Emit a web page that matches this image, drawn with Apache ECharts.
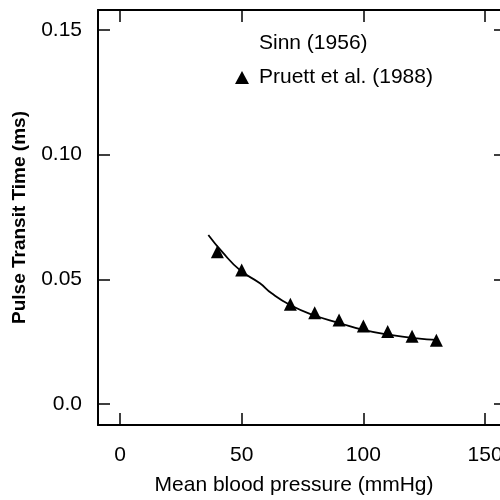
<!DOCTYPE html>
<html>
<head>
<meta charset="utf-8">
<script src="https://cdn.jsdelivr.net/npm/echarts@6/dist/echarts.min.js"></script>
<style>html,body{margin:0;padding:0;background:#fff}#c{width:500px;height:500px}</style>
</head>
<body>
<div id="c"></div>
<script>
// Sinn (1956) fitted curve: [mean blood pressure, pulse transit time]
const sinnX = [36.3, 42, 49.3, 57.5, 62.3, 69.9, 79.4, 90.4, 100, 111, 122, 130.2];
const sinnY = [0.0678, 0.0610, 0.0537, 0.0484, 0.0444, 0.0397, 0.0357, 0.0324, 0.0297, 0.0277, 0.0263, 0.0257];
// Pruett et al. (1988) data
const pruettX = [40, 50, 70, 80, 90, 100, 110, 120, 130];
const pruettY = [0.0611, 0.0537, 0.0400, 0.0366, 0.0337, 0.0313, 0.0291, 0.0272, 0.0256];
const xTicks = [0, 50, 100, 150];
const yTicks = [0, 0.05, 0.10, 0.15];
const yTickLabels = ['0.0', '0.05', '0.10', '0.15'];

const chart = echarts.init(document.getElementById('c'));
const font = 'Liberation Sans, Arial, Helvetica, sans-serif';
const lineStyle = {color: '#000', width: 2};
const tickIn = {show: true, inside: true, length: 12, lineStyle: {color: '#000', width: 1.5}};

chart.setOption({
  animation: false,
  backgroundColor: '#fff',
  grid: {left: 98, width: 408, top: 10, height: 415, outerBoundsMode: 'none', containLabel: false},
  legend: {
    orient: 'vertical', left: 230, top: 28, itemGap: 13,
    itemWidth: 14, itemHeight: 13,
    textStyle: {fontFamily: font, fontSize: 21, color: '#000', lineHeight: 21, padding: [0, 0, 0, 5]},
    data: [
      {name: 'Sinn (1956)', icon: 'none'},
      {name: 'Pruett et al. (1988)', icon: 'triangle'}
    ]
  },
  xAxis: [
    {type: 'value', position: 'bottom', min: -9.04, max: 158.6,
     axisLine: {show: true, onZero: false, lineStyle: lineStyle},
     axisTick: Object.assign({customValues: xTicks}, tickIn),
     axisLabel: {customValues: xTicks, fontFamily: font, fontSize: 21, color: '#000', margin: 20},
     splitLine: {show: false},
     name: 'Mean blood pressure (mmHg)', nameLocation: 'middle', nameGap: 50,
     nameTextStyle: {fontFamily: font, fontSize: 21, color: '#000', padding: [0, 16, 0, 0]}},
    {type: 'value', position: 'top', min: -9.04, max: 158.6,
     axisLine: {show: true, onZero: false, lineStyle: lineStyle},
     axisTick: Object.assign({customValues: xTicks}, tickIn),
     axisLabel: {show: false}, splitLine: {show: false}}
  ],
  yAxis: [
    {type: 'value', position: 'left', min: -0.0084, max: 0.158,
     axisLine: {show: true, onZero: false, lineStyle: lineStyle},
     axisTick: Object.assign({customValues: yTicks}, tickIn),
     axisLabel: {customValues: yTicks, fontFamily: font, fontSize: 21, color: '#000', margin: 16,
       formatter: v => { const i = yTicks.findIndex(t => Math.abs(t - v) < 1e-9); return i >= 0 ? yTickLabels[i] : ''; }},
     splitLine: {show: false},
     name: 'Pulse Transit Time (ms)', nameLocation: 'middle', nameGap: 69,
     nameTextStyle: {fontFamily: font, fontSize: 19, fontWeight: 'bold', color: '#000'}},
    {type: 'value', position: 'right', min: -0.0084, max: 0.158,
     axisLine: {show: true, onZero: false, lineStyle: lineStyle},
     axisTick: Object.assign({customValues: yTicks}, tickIn),
     axisLabel: {show: false}, splitLine: {show: false}}
  ],
  series: [
    {name: 'Sinn (1956)', type: 'line', smooth: true, showSymbol: false,
     lineStyle: {color: '#000', width: 1.8}, itemStyle: {color: '#000'},
     data: sinnX.map((x, i) => [x, sinnY[i]])},
    {name: 'Pruett et al. (1988)', type: 'scatter', symbol: 'triangle', symbolSize: 13,
     itemStyle: {color: '#000', opacity: 1},
     data: pruettX.map((x, i) => [x, pruettY[i]])}
  ]
});
</script>
</body>
</html>
